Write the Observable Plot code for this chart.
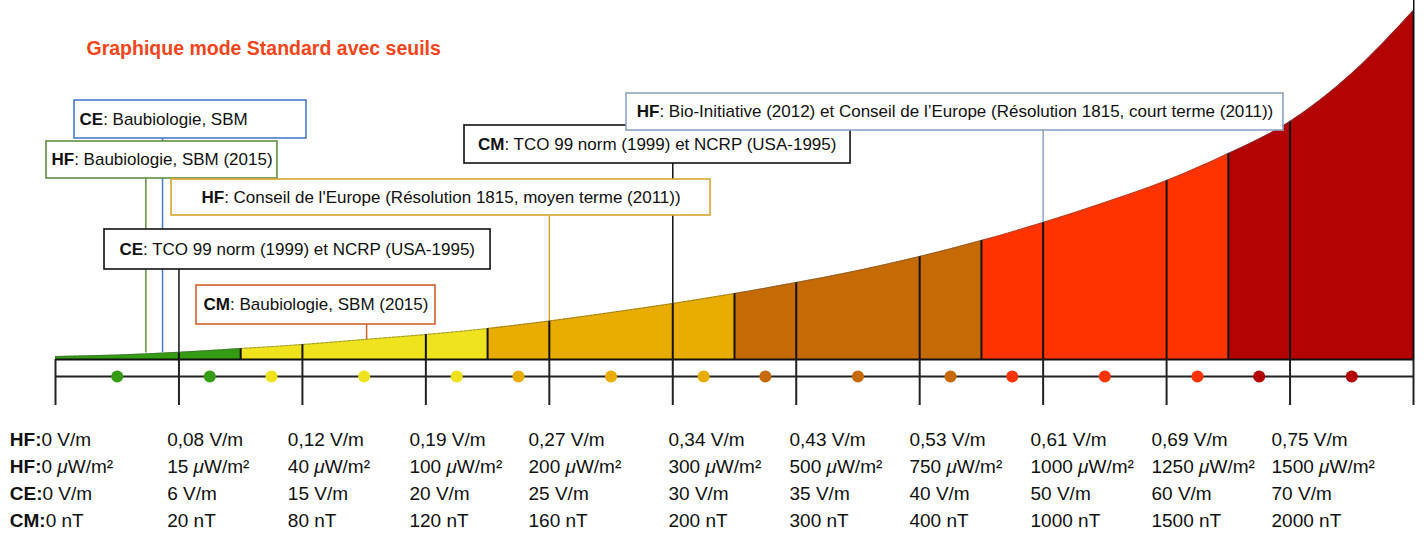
<!DOCTYPE html>
<html>
<head>
<meta charset="utf-8">
<script src="https://cdn.jsdelivr.net/npm/d3@7"></script>
<script src="https://cdn.jsdelivr.net/npm/@observablehq/plot@0.6"></script>
<style>
  html, body { margin: 0; padding: 0; background: #fff; }
</style>
</head>
<body>
<div id="chart"></div>
<script>
// ---------------- DATA ----------------
const title = "Graphique mode Standard avec seuils";

// tick positions (index of each threshold step)
const tickIdx = [0, 1, 2, 3, 4, 5, 6, 7, 8, 9, 10, 11];

// colour bands along the scale
const bandStart = [0, 1.5, 3.5, 5.5, 7.5, 9.5];
const bandEnd   = [1.5, 3.5, 5.5, 7.5, 9.5, 11];
const bandColor = ["#339c12", "#eee31c", "#e8ad00", "#c66a05", "#fe3300", "#b30303"];

// divider lines inside the area
const dividerIdx = [1, 1.5, 2, 3, 3.5, 4, 5, 5.5, 6, 7, 7.5, 8, 9, 9.5, 10, 11];

// height of the curve (level above the base line)
const curveX = [0, 0.5, 1, 1.5, 2, 2.5, 3, 3.5, 4, 4.5, 5, 5.5, 6, 6.5, 7, 7.5, 8, 8.5, 9, 9.5, 10, 10.5, 11];
const curveH = [3, 4.5, 7.3, 11, 15, 20, 25, 31, 38.5, 47, 56, 66, 77, 89, 103, 119, 137, 157, 179, 206, 238, 286, 349];

// dots on the axis
const dotX    = [0.5, 1.25, 1.75, 2.5, 3.25, 3.75, 4.5, 5.25, 5.75, 6.5, 7.25, 7.75, 8.5, 9.25, 9.75, 10.5];
const dotBand = [0, 0, 1, 1, 1, 2, 2, 2, 3, 3, 3, 4, 4, 4, 5, 5];

// tick label rows
const rowPrefix = ["HF:", "HF:", "CE:", "CM:"];
const hfVm = ["0 V/m", "0,08 V/m", "0,12 V/m", "0,19 V/m", "0,27 V/m", "0,34 V/m", "0,43 V/m", "0,53 V/m", "0,61 V/m", "0,69 V/m", "0,75 V/m"];
const hfUw = ["0 μW/m²", "15 μW/m²", "40 μW/m²", "100 μW/m²", "200 μW/m²", "300 μW/m²", "500 μW/m²", "750 μW/m²", "1000 μW/m²", "1250 μW/m²", "1500 μW/m²"];
const ceVm = ["0 V/m", "6 V/m", "15 V/m", "20 V/m", "25 V/m", "30 V/m", "35 V/m", "40 V/m", "50 V/m", "60 V/m", "70 V/m"];
const cmNt = ["0 nT", "20 nT", "80 nT", "120 nT", "160 nT", "200 nT", "300 nT", "400 nT", "1000 nT", "1500 nT", "2000 nT"];

// threshold annotations
const annoPrefix = ["CE", "HF", "HF", "CE", "CM", "CM", "HF"];
const annoText = [
  ": Baubiologie, SBM",
  ": Baubiologie, SBM (2015)",
  ": Conseil de l'Europe (Résolution 1815, moyen terme (2011))",
  ": TCO 99 norm (1999) et NCRP (USA-1995)",
  ": Baubiologie, SBM (2015)",
  ": TCO 99 norm (1999) et NCRP (USA-1995)",
  ": Bio-Initiative (2012) et Conseil de l’Europe (Résolution 1815, court terme (2011))"
];
const annoX   = [0.867, 0.732, 4.0, 1.0, 2.52, 5.0, 8.0];   // threshold position on the scale
const annoEnd = [7, 6.5, 38.5, 7.3, 20, 56, 137];             // curve level where leader meets the area

// ---------------- LAYOUT / STYLE ----------------
const annoColor = ["#4a7bd0", "#5e9140", "#d8a630", "#111111", "#d0612e", "#111111", "#8fa3c6"];
// box: [x1, x2, top level, bottom level]
const annoBox = [
  [0.154, 2.033, 259, 221],
  [-0.073, 1.798, 218, 181],
  [0.940, 5.306, 180, 144],
  [0.397, 3.524, 130, 90],
  [1.142, 3.078, 74, 35],
  [3.313, 6.440, 234, 196],
  [4.625, 9.947, 266, 229]
];
const annoAlign = ["start", "start", "middle", "middle", "middle", "middle", "middle"];
const labelDx = [-45.7, -11.8, -14.6, -16.4, -20.8, -4.3, -6.7, -10.2, -12.6, -15.1, -18.5];
const rowLevel = [-86, -113, -140, -167];

const FONT = '"Liberation Sans", Arial, Helvetica, sans-serif';
const ctx = document.createElement("canvas").getContext("2d");
function tw(str, size, weight, style = "normal") {
  ctx.font = `${style} ${weight} ${size}px "Liberation Sans"`;
  return ctx.measureText(str).width;
}

const BOX_FS = 17, LAB_FS = 19;
const TOP = 359;

const curve = curveX.map((x, i) => ({x, h: curveH[i]}));
const bands = bandStart.map((s, i) => ({s, e: bandEnd[i], c: bandColor[i]}));
const dots = dotX.map((x, i) => ({x, c: bandColor[dotBand[i]]}));

const marks = [];

// colour bands
marks.push(Plot.rect(bands, {x1: "s", x2: "e", y1: () => 0, y2: () => TOP, fill: "c"}));
// dividers
marks.push(Plot.ruleX(dividerIdx, {x: d => d, y1: () => 0, y2: () => TOP, stroke: "#111", strokeWidth: 2}));
// white mask above the curve
marks.push(Plot.areaY(curve, {x: "x", y1: "h", y2: () => TOP + 2, fill: "white", curve: "monotone-x"}));
// curve outline
marks.push(Plot.line(curve, {x: "x", y: "h", stroke: "#555", strokeWidth: 0.8, strokeOpacity: 0.7, strokeDasharray: "3 1.5", curve: "monotone-x"}));
// base line, axis line, ticks
marks.push(Plot.ruleY([0], {x1: () => 0, x2: () => 11, y: d => d, stroke: "#111", strokeWidth: 2}));
marks.push(Plot.ruleY([-17], {x1: () => 0, x2: () => 11, y: d => d, stroke: "#222", strokeWidth: 2.2}));
marks.push(Plot.ruleX(tickIdx, {x: d => d, y1: () => 0, y2: () => -46, stroke: "#222", strokeWidth: 2}));
// dots
marks.push(Plot.dot(dots, {x: "x", y: () => -17, r: 6, fill: "c", stroke: "none"}));

// leaders
annoX.forEach((ax, i) => {
  marks.push(Plot.ruleX([ax], {x: d => d, y1: () => annoEnd[i], y2: () => annoBox[i][3], stroke: annoColor[i], strokeWidth: 1.5}));
});
// boxes + texts
annoX.forEach((ax, i) => {
  const [x1, x2, yt, yb] = annoBox[i];
  marks.push(Plot.rect([i], {x1: () => x1, x2: () => x2, y1: () => yb, y2: () => yt, fill: "white", stroke: annoColor[i], strokeWidth: 1.6}));
  const pw = tw(annoPrefix[i], BOX_FS, "bold");
  const rw = tw(annoText[i], BOX_FS, "normal");
  const ym = (yt + yb) / 2;
  let xa, d0;
  if (annoAlign[i] === "start") { xa = x1; d0 = 5; }
  else { xa = (x1 + x2) / 2; d0 = -(pw + rw) / 2; }
  marks.push(Plot.text([annoPrefix[i]], {x: () => xa, y: () => ym, text: d => d, dx: d0, textAnchor: "start", lineAnchor: "middle", fontSize: BOX_FS, fontWeight: "bold", fill: "#111"}));
  marks.push(Plot.text([annoText[i]], {x: () => xa, y: () => ym, text: d => d, dx: d0 + pw, textAnchor: "start", lineAnchor: "middle", fontSize: BOX_FS, fill: "#111"}));
});

// a label; the "μ" is drawn in italics like the reference
function labelMarks(str, xi, level, dx) {
  const out = [];
  const k = str.indexOf("μ");
  const common = {x: () => xi, y: () => level, text: d => d, textAnchor: "start", lineAnchor: "bottom", fontSize: LAB_FS, fill: "#111"};
  if (k < 0) {
    out.push(Plot.text([str], {...common, dx}));
  } else {
    const pre = str.slice(0, k), mu = "μ", post = str.slice(k + 1);
    const w1 = tw(pre, LAB_FS, "normal");
    const w2 = tw(mu, LAB_FS, "normal", "italic");
    out.push(Plot.text([pre], {...common, dx}));
    out.push(Plot.text([mu], {...common, dx: dx + w1, fontStyle: "italic"}));
    out.push(Plot.text([post], {...common, dx: dx + w1 + w2}));
  }
  return out;
}

// tick label rows
const rows = [hfVm, hfUw, ceVm, cmNt];
rows.forEach((row, r) => {
  const pw = tw(rowPrefix[r], LAB_FS, "bold");
  marks.push(Plot.text([rowPrefix[r]], {x: () => 0, y: () => rowLevel[r], text: d => d, dx: labelDx[0], textAnchor: "start", lineAnchor: "bottom", fontSize: LAB_FS, fontWeight: "bold", fill: "#111"}));
  marks.push(...labelMarks(row[0], 0, rowLevel[r], labelDx[0] + pw));
  for (let c = 1; c < row.length; c++) {
    marks.push(...labelMarks(row[c], c, rowLevel[r], labelDx[c]));
  }
});

// title
marks.push(Plot.text([title], {frameAnchor: "top-left", text: d => d, dx: 31, dy: 54, textAnchor: "start", lineAnchor: "bottom", fontSize: 19.5, fontWeight: "bold", fill: "#f4441a"}));

const chart = Plot.plot({
  width: 1424,
  height: 534,
  marginLeft: 55,
  marginRight: 11,
  marginTop: 0,
  marginBottom: 0,
  x: {domain: [0, 11], axis: null},
  y: {domain: [-175, 359], axis: null},
  style: {fontFamily: FONT, background: "white", overflow: "visible"},
  marks
});
document.getElementById("chart").appendChild(chart);
</script>
</body>
</html>
